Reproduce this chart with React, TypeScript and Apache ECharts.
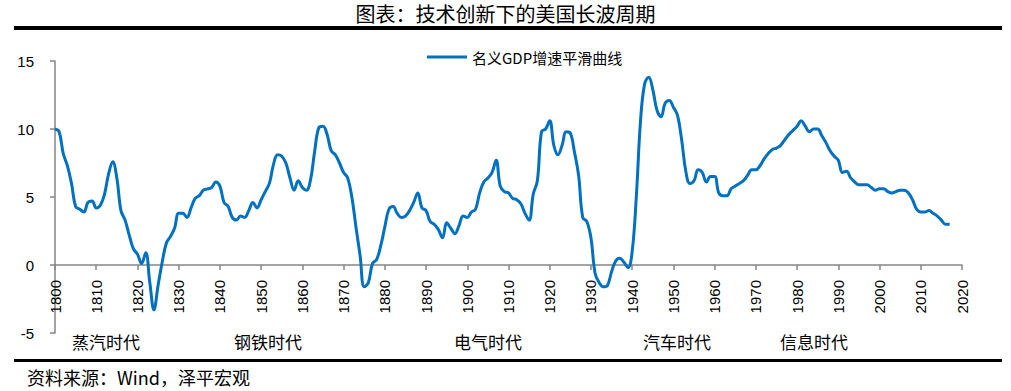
import React, { useEffect, useRef } from "react";
import * as echarts from "echarts";

const title = "图表：技术创新下的美国长波周期";
const seriesName = "名义GDP增速平滑曲线";
const sourceText = "资料来源：Wind，泽平宏观";
const startYear = 1800;
const eraLabels = ["蒸汽时代", "钢铁时代", "电气时代", "汽车时代", "信息时代"];

// 1800-1849
const values1800 = [
  10.0, 9.8, 8.2, 7.3, 6.0, 4.3, 4.1, 3.9, 4.6, 4.7,
  4.2, 4.4, 5.2, 6.7, 7.6, 6.4, 4.0, 3.3, 2.2, 1.2,
  0.8, 0.1, 0.9, -1.3, -3.3, -1.5, 0.2, 1.6, 2.1, 2.7,
  3.8, 3.8, 3.5, 4.2, 4.9, 5.1, 5.5, 5.6, 5.7, 6.1,
  5.8, 4.6, 4.3, 3.5, 3.3, 3.6, 3.5, 4.0, 4.6, 4.2,
];
// 1850-1899
const values1850 = [
  4.8, 5.4, 6.0, 7.4, 8.1, 8.0, 7.5, 6.4, 5.5, 6.2,
  5.7, 5.5, 6.3, 8.4, 10.1, 10.2, 9.6, 8.4, 8.1, 7.5,
  6.8, 6.4, 5.0, 2.8, 0.7, -1.6, -1.3, 0.1, 0.4, 1.4,
  2.8, 4.1, 4.3, 3.8, 3.5, 3.6, 4.0, 4.6, 5.3, 4.2,
  4.0, 3.2, 3.0, 2.6, 2.0, 3.1, 2.7, 2.3, 2.9, 3.6,
];
// 1900-1949
const values1900 = [
  3.5, 3.9, 4.1, 5.3, 6.1, 6.4, 6.8, 7.7, 5.8, 5.4,
  5.3, 4.9, 4.8, 4.5, 3.8, 3.3, 5.2, 6.2, 9.8, 10.0,
  10.6, 8.8, 8.1, 8.8, 9.8, 9.7, 8.3, 6.6, 3.5, 3.2,
  2.0, -0.6, -1.3, -1.6, -1.5, -0.5, 0.3, 0.5, 0.2, -0.2,
  1.0, 5.0, 10.5, 13.3, 13.8, 12.9, 11.4, 10.9, 11.9, 12.1,
];
// 1950-1999
const values1950 = [
  11.6, 11.0, 9.2, 6.9, 6.0, 6.2, 7.0, 6.8, 6.1, 6.5,
  6.5, 5.3, 5.1, 5.1, 5.6, 5.8, 6.0, 6.2, 6.6, 7.0,
  7.0, 7.3, 7.8, 8.2, 8.5, 8.6, 8.8, 9.2, 9.6, 9.9,
  10.2, 10.6, 10.2, 9.8, 10.0, 10.0, 9.5, 9.0, 8.4, 8.0,
  7.7, 6.8, 6.9, 6.4, 6.1, 5.9, 5.9, 5.9, 5.7, 5.5,
];
// 2000-2017
const values2000 = [
  5.6, 5.6, 5.4, 5.3, 5.4, 5.5, 5.5, 5.3, 4.8, 4.1,
  3.9, 3.9, 4.0, 3.8, 3.6, 3.3, 3.0, 3.0,
];

const allValues = [...values1800, ...values1850, ...values1900, ...values1950, ...values2000];
const seriesData = allValues.map((v, i) => [startYear + i, v]);

const eraX = [72, 234, 454, 643, 780];

export default function App() {
  const ref = useRef<HTMLDivElement>(null);
  useEffect(() => {
    if (!ref.current) return;
    const chart = echarts.init(ref.current, null, { renderer: "svg" });
    const cjk = '"Noto Sans CJK SC", sans-serif';
    const axisColor = "#868686";
    chart.setOption({
      animation: false,
      backgroundColor: "#ffffff",
      grid: { left: 55, right: 49, top: 61, bottom: 58, containLabel: false },
      legend: {
        data: [seriesName],
        left: 427,
        top: 49,
        padding: 0,
        icon: "rect",
        itemWidth: 40,
        itemHeight: 3,
        textStyle: { fontFamily: cjk, fontSize: 15, color: "#000", lineHeight: 16 },
      },
      xAxis: {
        type: "value",
        min: 1800,
        max: 2020,
        interval: 10,
        position: "bottom",
        offset: -68,
        axisLine: { onZero: false, lineStyle: { color: axisColor, width: 1.5 } },
        axisTick: { show: true, length: 5, lineStyle: { color: axisColor, width: 1.5 } },
        axisLabel: {
          rotate: 90,
          margin: 15,
          fontFamily: '"Liberation Sans", Arial, sans-serif',
          fontSize: 15,
          color: "#000",
          formatter: (v: number) => String(v),
        },
        splitLine: { show: false },
      },
      yAxis: {
        type: "value",
        min: -5,
        max: 15,
        interval: 5,
        axisLine: { show: true, onZero: false, lineStyle: { color: axisColor, width: 1.5 } },
        axisTick: { show: true, length: 5, lineStyle: { color: axisColor, width: 1.5 } },
        axisLabel: {
          margin: 21,
          fontFamily: '"Liberation Sans", Arial, sans-serif',
          fontSize: 15,
          color: "#000",
        },
        splitLine: { show: false },
      },
      series: [
        {
          name: seriesName,
          type: "line",
          data: seriesData,
          smooth: 0.4,
          showSymbol: false,
          symbol: "none",
          lineStyle: { color: "#0070C0", width: 3 },
          itemStyle: { color: "#0070C0" },
        },
      ],
      graphic: [
        {
          type: "text",
          x: 505.5,
          y: 13,
          style: {
            text: title,
            fontFamily: cjk,
            fontSize: 20,
            fill: "#000",
            align: "center",
            verticalAlign: "middle",
          },
        },
        { type: "rect", shape: { x: 14, y: 26, width: 988, height: 4 }, style: { fill: "#000" } },
        { type: "rect", shape: { x: 14, y: 359, width: 988, height: 3 }, style: { fill: "#000" } },
        ...eraLabels.map((t, i) => ({
          type: "text",
          x: eraX[i],
          y: 341,
          style: { text: t, fontFamily: cjk, fontSize: 17, fill: "#000", verticalAlign: "middle" },
        })),
        {
          type: "text",
          x: 27,
          y: 377,
          style: { text: sourceText, fontFamily: cjk, fontSize: 18, fill: "#000", verticalAlign: "middle" },
        },
      ],
    });
    return () => chart.dispose();
  }, []);
  return (
    <div
      ref={ref}
      style={{ position: "absolute", left: 0, top: 0, width: 1011, height: 391 }}
    />
  );
}
